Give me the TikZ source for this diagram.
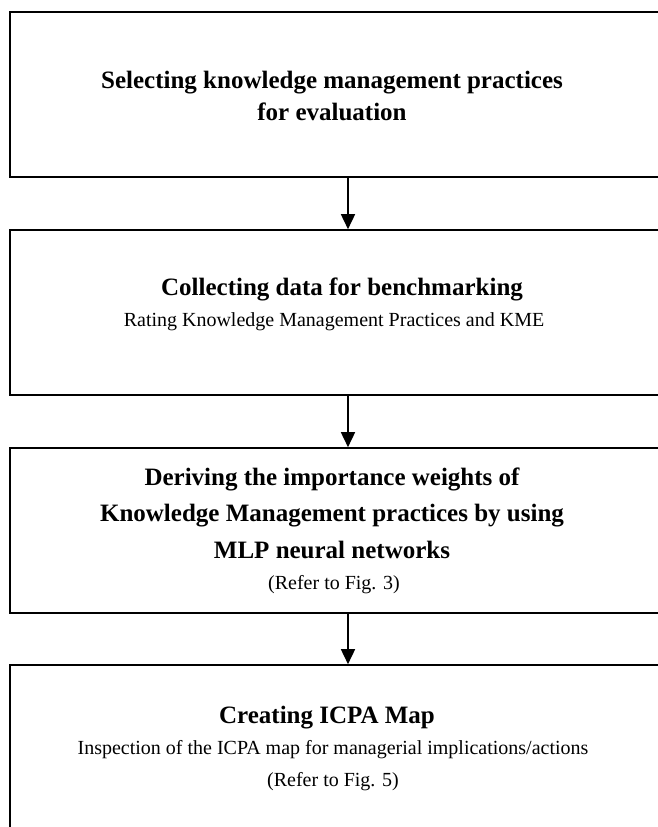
\documentclass[tikz,border=0pt]{standalone}
\usepackage{fontspec}
\setmainfont{Liberation Serif}
\usetikzlibrary{arrows.meta, positioning}

\begin{document}
\begin{tikzpicture}[
    x=0.5pt, y=-0.5pt,
    stage/.style = {draw, line width=0.8pt, minimum width=338pt, inner sep=0pt},
    title/.style = {align=center, anchor=base, inner sep=0pt,
                    font=\fontsize{12.5}{16}\selectfont\bfseries},
    note/.style  = {align=center, anchor=base, inner sep=0pt,
                    font=\fontsize{10}{16}\selectfont},
    arrow/.style = {-{Triangle[width=7pt,length=7.5pt]}, line width=0.8pt}
  ]
  \useasboundingbox (0,0) rectangle (658,827);

  % the four stages, their right edges run off the page
  \node[stage, minimum height=82.5pt]  (select)  at (348,94.5)  {};
  \node[stage, minimum height=82.5pt]  (collect) at (348,312.5) {};
  \node[stage, minimum height=82.5pt]  (derive)  at (348,530.5) {};
  \node[stage, minimum height=117.5pt] (create)  at (348,782.5) {};

  % texts (base = baseline of the last line)
  \node[title] (selectTitle) at (332,120)
    {Selecting knowledge management practices\\for evaluation};
  \node[title] (collectTitle) at (342,295) {Collecting data for benchmarking};
  \node[note]  (collectNote)  at (334,326)
    {Rating Knowledge Management Practices and KME};
  \node[title, font=\fontsize{12.5}{18.25}\selectfont\bfseries] (deriveTitle) at (332,558)
    {Deriving the importance weights of\\Knowledge Management practices by using\\MLP neural networks};
  \node[note]  (deriveNote)   at (334,589) {(Refer to Fig. 3)};
  \node[title] (createTitle)  at (327,723) {Creating ICPA Map};
  \node[note]  (createNote)   at (333,786)
    {Inspection of the ICPA map for managerial implications/actions\\(Refer to Fig. 5)};

  \draw[arrow] (select)  -- (collect);
  \draw[arrow] (collect) -- (derive);
  \draw[arrow] (derive)  -- (create);
\end{tikzpicture}
\end{document}
